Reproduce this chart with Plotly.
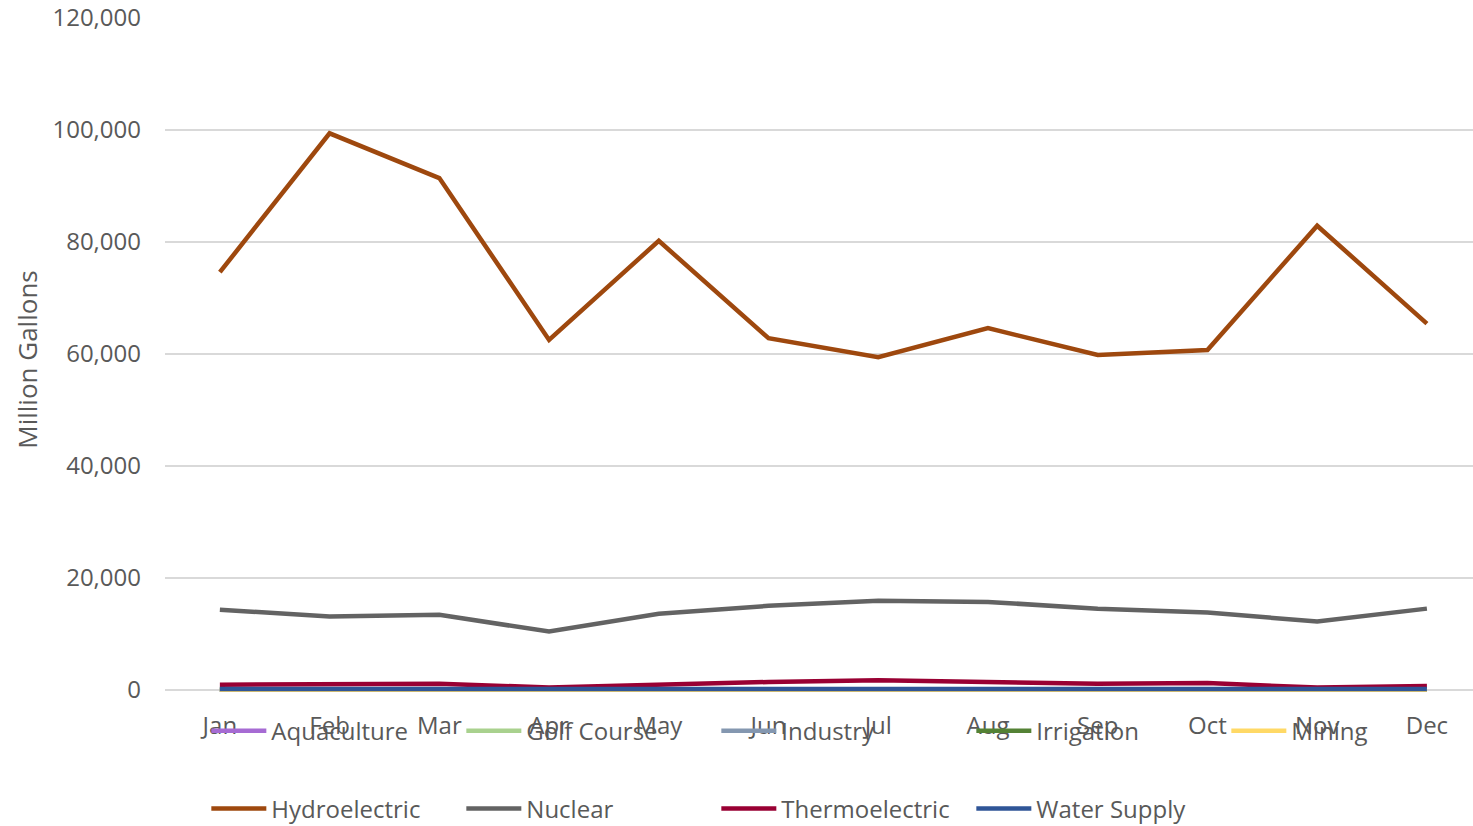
import plotly.graph_objects as go

months = ["Jan", "Feb", "Mar", "Apr", "May", "Jun", "Jul", "Aug", "Sep", "Oct", "Nov", "Dec"]

aquaculture = [30, 30, 30, 30, 30, 30, 30, 30, 30, 30, 30, 30]
golf_course = [10, 10, 12, 15, 20, 25, 28, 27, 22, 18, 12, 10]
industry = [60, 58, 60, 55, 60, 62, 65, 64, 60, 60, 58, 60]
irrigation = [20, 20, 25, 30, 40, 50, 55, 52, 45, 35, 25, 20]
mining = [15, 15, 15, 15, 15, 15, 15, 15, 15, 15, 15, 15]
hydroelectric = [74600, 99400, 91400, 62500, 80200, 62800, 59400, 64600, 59800, 60700, 82900, 65400]
nuclear = [14300, 13100, 13400, 10400, 13600, 15000, 15900, 15700, 14500, 13800, 12200, 14500]
thermoelectric = [900, 900, 1100, 400, 900, 1400, 1700, 1500, 1100, 1200, 400, 700]
water_supply = [130, 125, 130, 130, 135, 145, 150, 150, 140, 135, 130, 130]

series = [
    ("Aquaculture", aquaculture, "#A66BD3", "legend"),
    ("Golf Course", golf_course, "#A9D18E", "legend"),
    ("Industry", industry, "#8497B0", "legend"),
    ("Irrigation", irrigation, "#548235", "legend"),
    ("Mining", mining, "#FFD966", "legend"),
    ("Hydroelectric", hydroelectric, "#9E480E", "legend2"),
    ("Nuclear", nuclear, "#636363", "legend2"),
    ("Thermoelectric", thermoelectric, "#990033", "legend2"),
    ("Water Supply", water_supply, "#2F5597", "legend2"),
]

fig = go.Figure()
for name, vals, color, lg in series:
    fig.add_trace(go.Scatter(
        x=months, y=vals, name=name, mode="lines",
        line=dict(color=color, width=4.5, shape="linear"),
        legend=lg,
    ))

font_family = "Open Sans"
text_color = "#595959"

legend_common = dict(
    orientation="h", xanchor="left", yanchor="middle",
    entrywidth=185, entrywidthmode="pixels", itemwidth=55,
    font=dict(family=font_family, size=24, color=text_color),
    bgcolor="rgba(0,0,0,0)", traceorder="normal",
)

fig.update_layout(
    width=1473, height=826,
    margin=dict(l=165, r=0, t=18, b=125, autoexpand=False),
    paper_bgcolor="white", plot_bgcolor="white",
    font=dict(family=font_family, color=text_color),
    showlegend=True,
    legend=dict(x=0.0316, y=-0.044, **legend_common),
    legend2=dict(x=0.0316, y=-0.158, **legend_common),
    xaxis=dict(
        type="category", range=[-0.5, 11.42],
        showgrid=False, showline=False, zeroline=False,
        tickfont=dict(family=font_family, size=24, color=text_color),
        ticks="", ticklabelstandoff=8,
    ),
    yaxis=dict(
        range=[-2000, 120000], tickvals=[0, 20000, 40000, 60000, 80000, 100000, 120000],
        tickformat=",", showgrid=True, gridcolor="#D9D9D9", gridwidth=1.5,
        zeroline=False, showline=False, ticks="",
        tickfont=dict(family=font_family, size=24, color=text_color),
        ticklabelstandoff=23,
        title=dict(text="Million Gallons", font=dict(family=font_family, size=26, color=text_color), standoff=7),
    ),
)

fig.write_html("out.html")
